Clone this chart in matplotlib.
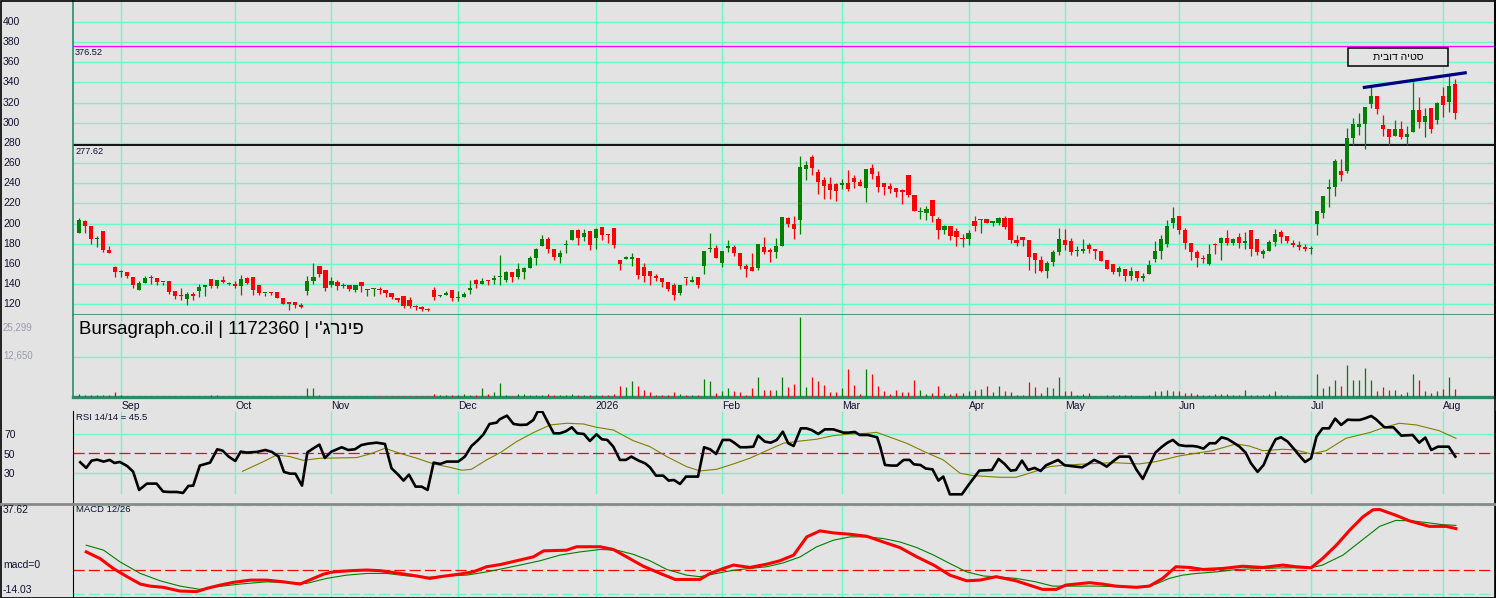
import matplotlib
matplotlib.use("Agg")
import matplotlib.pyplot as plt
import matplotlib.transforms as mtransforms
from matplotlib.patches import Rectangle
from matplotlib.lines import Line2D

plt.rcParams['font.family'] = ['Liberation Sans', 'DejaVu Sans']
plt.rcParams['lines.scale_dashes'] = False

W, H, DPI = 1496, 598, 100
BG = '#E3E3E3'
GRID = '#6EF7C9'
UP = '#008000'
DOWN = '#FF0000'
TXT = '#101030'

# ---------------- data ----------------
month_labels = ["Sep", "Oct", "Nov", "Dec", "2026", "Feb", "Mar", "Apr", "May", "Jun", "Jul", "Aug"]
month_pos = [7, 26, 42, 63, 86, 107, 127, 148, 164, 183, 205, 227]

price_ticks = [120, 140, 160, 180, 200, 220, 240, 260, 280, 300, 320, 340, 360, 380, 400]
level_hi = 376.52
level_lo = 277.62

opens = [
    190.6, 202.3, 197.3, 184.3, 192.3, 174.3, 157.3, 152.0, 152.3, 147.3,
    134.6, 141.6, 146.0, 146.0, 142.6, 143.3, 133.3, 128.3, 125.6, 130.3,
    133.3, 137.6, 145.3, 138.3, 144.3, 140.3, 140.0, 138.3, 146.3, 147.3,
    139.3, 131.0, 132.3, 132.3, 126.3, 122.3, 122.3, 119.3, 133.6, 143.3,
    158.3, 154.3, 139.6, 142.3, 138.3, 139.3, 134.3, 142.3, 134.3, 135.3,
    135.3, 134.3, 131.3, 126.3, 128.3, 124.3, 118.3, 117.3, 115.3, 134.3,
    128.3, 129.3, 134.3, 126.3, 127.3, 134.3, 144.3, 140.3, 144.3, 144.3,
    147.3, 144.3, 152.3, 147.3, 152.3, 156.3, 166.3, 178.3, 184.3, 175.3,
    167.3, 179.3, 183.3, 193.3, 186.3, 192.3, 185.3, 196.3, 189.3, 195.3,
    164.3, 165.3, 165.3, 166.3, 157.3, 153.0, 148.3, 146.3, 142.3, 139.3,
    131.6, 146.0, 142.3, 147.3, 157.6, 175.3, 176.3, 160.6, 175.6, 177.3,
    171.3, 158.3, 157.3, 155.6, 177.3, 174.3, 172.3, 178.3, 205.3, 199.3,
    203.3, 254.3, 266.3, 251.3, 243.3, 239.3, 239.3, 238.3, 240.3, 245.3,
    241.3, 235.3, 255.3, 247.3, 240.3, 237.3, 235.3, 233.3, 248.3, 228.3,
    211.3, 210.3, 223.3, 204.3, 193.6, 197.3, 192.3, 185.3, 184.6, 202.3,
    203.3, 204.3, 200.3, 200.3, 205.3, 205.3, 183.3, 186.3, 183.6, 170.6,
    164.3, 153.3, 162.3, 172.3, 183.3, 182.3, 173.0, 173.3, 179.3, 175.3,
    173.3, 164.3, 160.3, 152.3, 155.3, 148.3, 153.3, 146.3, 150.3, 165.3,
    173.3, 180.3, 200.3, 207.3, 193.3, 181.3, 172.3, 166.0, 160.3, 180.0,
    181.0, 186.0, 181.0, 187.0, 181.0, 194.0, 185.0, 170.0, 173.0, 182.0,
    192.0, 188.0, 181.0, 179.3, 177.0, 175.0, 200.0, 211.0, 234.0, 236.0,
    252.0, 252.0, 285.0, 296.0, 299.0, 319.0, 327.0, 298.0, 294.0, 287.0,
    294.0, 286.0, 291.0, 313.0, 301.0, 315.0, 303.0, 327.0, 321.0, 338.0,
]
highs = [
    206.0, 203.3, 197.3, 187.3, 192.3, 178.3, 158.3, 154.3, 152.3, 147.3,
    143.3, 148.3, 149.3, 146.0, 142.6, 143.3, 133.3, 136.0, 132.3, 132.3,
    140.3, 139.3, 145.3, 144.3, 148.3, 142.3, 143.3, 149.3, 147.3, 147.3,
    139.3, 131.3, 132.3, 132.3, 126.3, 122.3, 122.3, 121.0, 148.3, 161.3,
    158.3, 154.3, 147.3, 144.3, 141.3, 139.3, 139.3, 142.3, 135.3, 136.3,
    137.3, 134.3, 131.3, 126.3, 128.3, 127.3, 119.3, 118.6, 116.0, 137.3,
    129.3, 133.3, 134.3, 133.3, 132.3, 144.3, 145.3, 146.3, 144.3, 149.3,
    169.3, 153.3, 152.3, 161.3, 157.3, 168.3, 176.3, 188.3, 186.3, 175.3,
    174.3, 183.3, 193.3, 194.3, 194.3, 192.3, 195.3, 196.3, 189.3, 195.3,
    164.3, 168.3, 171.3, 166.3, 161.3, 153.0, 150.0, 146.3, 142.3, 141.3,
    139.0, 146.0, 148.3, 147.3, 173.3, 190.3, 179.3, 173.3, 183.3, 179.3,
    171.3, 160.0, 171.3, 180.3, 186.3, 176.3, 185.3, 206.3, 206.3, 207.3,
    267.3, 262.3, 268.3, 254.3, 246.3, 246.3, 240.3, 244.3, 253.3, 248.3,
    244.3, 254.3, 259.3, 252.3, 240.3, 240.3, 235.3, 234.3, 248.3, 228.3,
    216.3, 217.3, 223.3, 206.3, 198.3, 197.3, 195.3, 189.6, 193.3, 207.3,
    204.3, 204.3, 202.3, 206.3, 207.3, 205.3, 188.3, 186.3, 183.6, 171.3,
    168.3, 163.3, 174.3, 195.3, 194.3, 185.3, 178.3, 184.3, 181.3, 175.3,
    173.3, 164.3, 160.3, 158.3, 155.3, 157.3, 153.3, 151.3, 164.3, 182.3,
    188.3, 203.3, 216.3, 207.3, 195.3, 181.3, 174.3, 169.0, 180.0, 181.0,
    187.0, 194.0, 186.0, 191.0, 192.0, 194.0, 185.0, 175.0, 184.0, 195.0,
    194.0, 188.0, 184.0, 183.0, 180.0, 178.0, 213.0, 227.0, 244.0, 264.0,
    264.0, 295.0, 305.0, 310.0, 316.0, 337.0, 327.0, 308.0, 294.0, 303.0,
    302.0, 297.0, 340.0, 326.0, 315.0, 315.0, 321.0, 336.0, 348.0, 343.0,
]
lows = [
    190.6, 190.6, 180.0, 176.6, 171.6, 170.6, 146.6, 146.6, 146.0, 136.6,
    134.6, 141.6, 140.0, 139.3, 139.0, 130.6, 125.6, 124.6, 119.3, 124.6,
    127.3, 128.6, 136.6, 136.6, 141.0, 139.3, 136.6, 129.3, 140.0, 129.3,
    129.3, 128.3, 129.6, 126.3, 120.6, 114.3, 116.6, 116.6, 129.3, 140.0,
    147.3, 133.3, 137.3, 134.3, 136.6, 133.3, 132.3, 132.3, 128.6, 128.6,
    130.6, 127.3, 125.6, 122.3, 116.6, 116.6, 114.3, 113.6, 113.6, 124.3,
    127.3, 129.3, 123.3, 123.3, 127.3, 130.3, 136.3, 140.3, 139.3, 140.3,
    139.3, 142.3, 142.3, 145.3, 145.3, 156.3, 159.3, 178.3, 171.3, 164.3,
    161.3, 171.3, 183.3, 179.3, 182.3, 174.3, 175.3, 183.3, 181.3, 176.3,
    154.3, 165.3, 158.3, 145.3, 142.3, 139.6, 143.3, 137.6, 133.3, 124.6,
    129.6, 139.0, 142.3, 136.3, 150.3, 172.3, 165.6, 156.6, 172.3, 168.3,
    154.6, 146.6, 152.6, 153.6, 170.3, 161.6, 165.6, 178.3, 196.6, 184.3,
    189.3, 243.3, 248.3, 229.3, 224.3, 224.3, 222.3, 234.3, 232.3, 235.3,
    237.3, 221.3, 244.3, 231.3, 228.3, 230.3, 226.3, 219.3, 226.3, 212.3,
    204.3, 203.3, 201.6, 184.6, 189.6, 183.6, 178.3, 177.3, 179.3, 192.6,
    190.6, 200.3, 197.6, 198.3, 194.3, 181.3, 178.3, 178.3, 154.3, 151.3,
    152.3, 146.3, 158.3, 169.3, 174.3, 169.3, 168.3, 171.3, 171.3, 165.3,
    163.3, 155.3, 150.3, 148.3, 143.3, 144.3, 143.6, 143.3, 150.3, 162.3,
    165.3, 177.3, 195.3, 189.3, 175.3, 164.3, 157.3, 161.0, 159.0, 170.0,
    164.0, 179.0, 179.0, 176.0, 175.0, 168.0, 169.0, 166.0, 173.0, 178.0,
    181.0, 181.0, 177.0, 174.0, 173.0, 170.0, 189.0, 206.0, 217.0, 227.0,
    242.0, 250.0, 278.0, 288.0, 274.0, 315.0, 309.0, 287.0, 278.0, 287.0,
    284.0, 278.0, 291.0, 295.0, 286.0, 290.0, 299.0, 306.0, 311.0, 304.0,
]
closes = [
    203.3, 197.6, 184.6, 185.0, 174.3, 170.6, 151.6, 152.3, 148.0, 139.6,
    141.3, 146.3, 145.6, 142.3, 142.0, 132.6, 128.3, 128.0, 130.3, 128.3,
    137.3, 139.3, 138.3, 144.3, 142.0, 140.6, 138.3, 145.3, 141.3, 134.6,
    131.3, 131.3, 131.3, 126.3, 120.6, 120.6, 119.3, 117.6, 143.3, 147.3,
    150.3, 136.3, 143.3, 138.3, 139.3, 135.3, 139.3, 138.3, 135.3, 135.6,
    134.3, 131.3, 127.3, 124.3, 118.3, 118.3, 117.3, 115.3, 114.3, 127.3,
    129.3, 131.3, 126.3, 127.3, 130.3, 136.3, 140.3, 143.3, 143.3, 146.3,
    148.3, 152.3, 147.3, 155.3, 156.3, 166.3, 175.3, 184.3, 175.3, 167.3,
    171.3, 180.3, 193.3, 185.3, 190.3, 179.3, 194.3, 188.3, 188.3, 179.3,
    160.3, 167.3, 167.3, 149.3, 148.3, 147.6, 146.3, 142.3, 135.6, 129.6,
    139.0, 145.6, 144.0, 139.0, 173.3, 176.3, 165.6, 173.3, 177.6, 171.3,
    157.6, 154.6, 152.6, 180.3, 172.3, 172.3, 178.3, 206.3, 199.3, 194.3,
    256.3, 258.3, 255.3, 241.3, 237.3, 233.3, 232.3, 240.3, 234.3, 241.3,
    237.3, 254.3, 249.3, 236.3, 236.3, 234.3, 231.3, 231.3, 228.3, 212.3,
    212.3, 214.3, 207.6, 193.6, 197.3, 187.6, 186.3, 184.6, 190.3, 197.3,
    204.3, 200.3, 202.3, 205.3, 196.3, 183.3, 181.3, 183.3, 167.3, 164.3,
    153.3, 161.3, 172.3, 184.3, 179.3, 172.3, 173.3, 175.3, 175.3, 173.3,
    163.3, 155.3, 152.3, 156.3, 148.3, 153.3, 146.3, 148.3, 159.3, 173.3,
    184.3, 197.3, 205.3, 193.3, 181.3, 172.3, 166.3, 165.0, 170.0, 179.0,
    186.0, 181.0, 185.0, 181.0, 183.0, 175.0, 172.0, 173.0, 182.0, 190.0,
    187.0, 183.0, 179.0, 177.0, 175.0, 176.0, 213.0, 227.0, 236.0, 262.0,
    248.0, 285.0, 299.0, 299.0, 316.0, 327.0, 314.0, 294.0, 286.0, 294.0,
    286.0, 289.0, 313.0, 301.0, 307.0, 294.0, 320.0, 318.0, 337.0, 310.0,
]
volumes = [
    950, 630, 630, 630, 630, 630, 1580, 630, 320, 320,
    320, 320, 320, 320, 320, 320, 320, 320, 320, 320,
    320, 320, 630, 630, 320, 320, 320, 320, 320, 320,
    320, 320, 320, 320, 320, 320, 320, 320, 2850, 2850,
    630, 320, 320, 320, 320, 320, 320, 320, 320, 320,
    320, 320, 320, 320, 320, 320, 320, 320, 320, 950,
    630, 630, 630, 630, 950, 630, 630, 2850, 950, 1580,
    4430, 630, 320, 950, 950, 630, 630, 630, 950, 630,
    630, 630, 950, 630, 630, 630, 630, 630, 630, 950,
    3480, 3160, 5060, 3480, 2210, 1580, 630, 630, 630, 1580,
    950, 630, 630, 630, 5690, 5060, 1270, 1900, 2850, 1900,
    1580, 630, 2850, 6330, 2210, 2210, 2210, 6330, 3160, 4110,
    25299, 3160, 6330, 5060, 3800, 1580, 1580, 2850, 8860, 3800,
    950, 8860, 7270, 3480, 1900, 950, 2210, 1580, 1580, 5380,
    2210, 950, 1270, 3480, 1270, 950, 1270, 1270, 1900, 2210,
    2530, 3480, 1580,
    3480, 1900, 1580, 630, 630, 4740, 3160, 1270, 3160, 2850,
    6330, 1900, 1900, 630, 950, 1270, 320, 320, 630, 630,
    630, 630, 630, 320, 320, 630, 1900, 1900, 2210, 1900,
    1900, 1270, 1270, 950, 630, 630, 950, 950, 950, 630,
    630, 2210, 630, 630, 630, 950, 1900, 630, 630, 320,
    320, 320, 630, 7270, 2850, 3480, 5380, 3480, 10120, 5380,
    5380, 9170, 5380, 1900, 3160, 2210, 2210, 950, 1580, 7270,
    5380, 1900, 1270, 1900, 2530, 6330, 2530,
]
vol_ticks = [12650, 25299]

rsi_x = [0.2, 1.2, 2.1, 3.0, 4.1, 5.1, 5.9, 6.8, 8.0, 9.0, 10.0, 11.3, 12.9, 14.0, 15.1, 16.3, 17.3, 18.2, 19.0,
         20.1, 21.8, 23.0, 23.9, 24.9, 26.0, 26.9, 27.9, 29.6, 31.0, 32.1, 33.2, 34.1, 35.1, 36.0, 37.1, 38.0,
         39.0, 40.0, 40.9, 42.0, 43.7, 44.8, 45.9, 47.0, 48.1, 49.5, 50.9, 52.0, 53.1, 54.0, 54.9, 56.0, 57.0,
         58.0, 59.0, 60.1, 61.2, 63.1, 64.2, 65.3, 66.3, 67.3, 68.3, 69.5,
         70.0, 71.2, 72.3, 73.4, 74.5, 75.6, 76.3, 77.1, 78.1, 79.0, 80.0, 81.0, 82.0, 82.9, 84.0, 85.0, 86.1,
         87.0, 87.9, 88.9, 90.0, 91.0, 91.9, 93.1, 94.2, 95.0, 96.0, 97.2, 98.1, 99.0, 100.0, 101.0, 101.9,
         103.0, 104.0, 105.0, 106.0, 107.1, 108.3, 109.0, 110.0, 111.1, 112.2, 113.0, 114.1, 115.1, 116.1,
         117.1, 118.0, 118.9, 120.1, 121.0, 121.9, 123.0, 124.1, 125.5, 126.5, 127.2, 128.0, 129.1, 129.9,
         131.3, 132.8, 133.3, 134.1, 135.2, 136.1, 137.2, 138.2, 138.9, 140.0, 140.9, 142.0, 143.0, 143.8,
         144.9, 146.9, 148.0, 149.8, 151.9, 153.0,
         154.0, 155.0, 155.9, 156.9, 157.9, 159.0, 160.0, 160.9, 161.9, 162.9, 164.0, 164.9, 165.9, 166.9,
         167.9, 168.9, 169.9, 171.0, 172.0, 173.1, 174.8, 175.9, 177.0, 178.1, 179.1, 180.2, 181.1, 182.0,
         183.0, 184.1, 185.3, 186.1, 187.1, 188.1, 189.1, 190.1, 191.1, 192.1, 193.1, 194.1, 195.0, 196.1,
         197.1, 198.1, 199.1, 200.0, 201.1, 202.2, 203.2, 204.0, 205.0, 205.9, 206.9, 208.0, 209.0, 210.0,
         211.1, 212.0, 213.1, 214.0, 215.0, 215.8, 217.2, 218.7, 220.0, 221.9, 223.0, 224.0, 225.0, 226.1,
         227.9, 229.0]
rsi_y = [40.8, 35.0, 42.5, 43.5, 41.5, 43.2, 40.1, 41.1, 37.0, 31.2, 12.4, 18.9, 18.9, 10.7, 10.3, 10.3, 9.3, 16.5,
         16.8, 37.4, 40.4, 54.1, 52.7, 46.6, 42.1, 51.7, 50.7, 51.4, 53.4, 51.4, 46.6, 30.9, 29.1, 29.1, 16.8,
         51.0, 55.1, 58.9, 45.2, 51.7, 56.2, 53.4, 54.1, 58.5, 59.9, 60.9, 59.6, 34.6, 28.1, 22.0, 28.1, 15.8,
         15.8, 12.4, 40.4, 39.1, 41.5, 41.5, 46.6, 57.5, 63.0, 69.5, 80.1, 81.5,
         84.9, 88.6, 80.1, 79.1, 79.4, 84.2, 92.7, 92.7, 80.8, 70.5, 70.5, 72.6, 76.7, 70.5, 69.8, 62.6, 69.5,
         64.4, 63.7, 56.8, 43.2, 43.2, 46.6, 42.5, 39.7, 35.6, 27.1, 27.1, 22.0, 22.6, 18.5, 26.1, 26.1, 26.1,
         56.2, 54.1, 49.3, 63.7, 63.7, 60.9, 56.2, 56.2, 56.8, 68.1, 62.0, 60.9, 63.7, 72.2, 60.3, 57.5, 75.6,
         75.6, 73.9, 69.8, 74.6, 74.6, 72.6, 71.2, 71.2, 71.9, 68.8, 68.8, 66.4, 56.8, 38.0, 37.4, 37.4, 43.2,
         43.2, 38.7, 38.0, 34.3, 33.6, 22.0, 26.1, 7.9, 7.9, 17.5, 32.2, 32.9, 44.2,
         39.1, 32.2, 32.9, 42.5, 32.9, 35.0, 31.9, 37.7, 40.4, 43.2, 37.7, 37.0, 36.3, 35.6, 39.1, 43.2, 40.4,
         36.3, 41.5, 46.6, 46.6, 33.6, 23.7, 38.0, 50.7, 56.8, 60.9, 63.7, 58.5, 57.5, 57.5, 56.8, 54.8, 60.3,
         60.3, 66.4, 64.7, 60.9, 56.8, 50.7, 39.7, 30.9, 38.0, 52.7, 64.4, 66.4, 62.0, 54.1, 46.6, 41.1, 44.9,
         67.1, 75.6, 75.6, 85.6, 79.1, 84.5, 84.2, 84.2, 85.9, 88.3, 84.9, 76.7, 76.7, 68.1, 68.8, 60.9, 66.1,
         53.4, 56.8, 56.8, 46.6]

rsig_x = [27.2, 30.7, 32.9, 35.1, 37.3, 40.1, 46.2, 48.4, 50.9, 53.4, 56.2, 59.0, 61.7, 63.7, 65.3, 67.8, 70.1,
          72.8, 75.6, 78.4, 81.1, 83.9, 86.1, 88.9, 92.2, 95.0, 97.8, 101.1, 103.3, 106.1, 108.9, 111.6, 114.4,
          117.2, 120.0, 122.7, 125.5, 128.3, 131.1, 132.7, 135.0, 137.7, 141.0, 143.8, 146.6, 148.8, 153.2,
          155.9, 158.1, 161.5, 163.7, 167.6, 172.0, 176.4, 179.2, 183.1, 188.6, 192.5, 194.7, 197.0, 200.3,
          202.5, 205.0, 207.5, 210.8, 214.7, 217.2, 219.7, 222.5, 226.3, 229.1]
rsig_y = [31.5, 41.5, 48.3, 46.6, 42.8, 44.9, 45.6, 49.3, 55.1, 50.0, 44.9, 39.1, 35.6, 32.6, 33.6, 43.2, 50.7,
          62.0, 71.2, 79.1, 80.8, 80.1, 76.7, 73.9, 63.0, 56.8, 46.6, 36.3, 31.9, 33.6, 39.1, 44.9, 52.7, 60.3,
          62.6, 64.4, 68.1, 69.8, 70.5, 71.5, 66.4, 60.3, 50.7, 43.2, 29.5, 27.1, 25.4, 25.4, 29.5, 36.3, 37.7,
          39.1, 40.4, 39.1, 41.5, 47.3, 52.7, 59.6, 57.5, 52.7, 54.1, 53.4, 49.3, 52.7, 65.4, 71.2, 76.7, 80.8,
          79.1, 73.2, 65.4]
rsi_levels = [70, 50, 30]
rsi_label = "RSI 14/14 = 45.5"

macd_x = [1.2, 3.5, 5.7, 8.0, 10.2, 11.8, 14.0, 16.8, 19.6, 21.3, 23.5, 25.7, 28.5, 31.2, 34.0, 36.8, 39.0, 40.7,
          42.3, 45.1, 47.9, 50.1, 53.4, 56.2, 58.4, 60.1, 62.9, 65.6, 67.8, 70.1, 72.8, 75.6, 77.3, 81.1, 82.8,
          86.7, 88.9, 91.1, 93.9, 96.7, 99.2, 103.3, 105.0, 107.2, 108.9, 111.6, 114.4, 116.6, 118.9, 121.1,
          123.3, 125.5, 128.3, 131.1, 133.8, 136.6, 139.4, 142.2, 144.9, 147.7, 149.9, 152.6, 155.9, 158.1,
          160.3, 162.6, 164.2, 168.1, 170.3, 172.5, 175.9, 178.1, 180.3, 182.5, 184.8, 187.0, 190.3, 193.6,
          197.0, 200.3, 202.5, 205.0, 206.9, 209.2, 211.4, 213.6, 215.3, 216.4, 219.1, 221.4, 224.7, 227.5,
          229.1]
macd_y = [10.3, 6.4, 0.6, -4.2, -8.5, -9.7, -10.4, -12.6, -12.9, -11.0, -9.1, -7.5, -6.2, -6.2, -7.2, -8.5, -5.2,
          -2.7, -1.4, -0.7, -0.3, -0.7, -2.3, -3.8, -5.2, -4.2, -2.9, -1.4, 1.6, 2.9, 5.1, 7.4, 10.9, 11.3, 13.3,
          13.3, 11.7, 7.4, 1.9, -2.3, -5.8, -5.8, -2.3, 0.6, 2.6, 1.2, 3.1, 5.1, 8.4, 19.1, 22.6, 21.4, 20.6,
          19.4, 16.1, 12.8, 7.4, 2.6, -3.3, -6.6, -6.2, -4.2, -6.6, -9.1, -11.6, -11.6, -9.1, -7.7, -8.5, -9.7,
          -10.4, -9.7, -5.2, 1.6, 1.2, 0.0, 0.6, 1.9, 1.2, 2.6, 1.6, 1.0, 6.4, 14.2, 22.9, 30.7, 34.9, 35.1,
          31.7, 28.4, 25.2, 25.2, 23.9]
sig_x = [1.2, 4.1, 6.8, 10.2, 13.5, 16.8, 20.1, 22.9, 26.8, 31.2, 35.7, 37.9, 41.2, 44.5, 47.9, 51.2, 54.5, 57.9,
         61.2, 64.5, 67.8, 70.1, 73.4, 76.7, 80.0, 83.4, 86.7, 89.5, 92.2, 95.0, 97.8, 101.1, 103.3, 106.1,
         108.9, 111.6, 114.4, 117.2, 120.0, 122.7, 125.5, 128.3, 131.1, 133.8, 136.6, 139.4, 142.2, 144.9,
         147.7, 150.5, 152.6, 155.9, 159.2, 162.0, 164.8, 169.2, 173.6, 177.0, 179.2, 181.4, 183.6, 185.9,
         189.2, 192.5, 197.0, 200.3, 205.0, 206.9, 210.3, 213.6, 216.4, 219.1, 221.9, 224.7, 226.9, 229.1]
sig_y = [14.2, 11.3, 4.5, -2.3, -6.6, -9.7, -11.6, -10.1, -8.5, -7.2, -7.8, -8.1, -5.2, -3.3, -2.3, -2.3, -3.7,
         -4.6, -3.7, -3.3, -1.4, 0.2, 2.6, 5.1, 8.4, 10.3, 11.7, 11.3, 8.9, 5.1, 0.0, -3.3, -4.2, -2.3, -0.4,
         0.6, 1.6, 3.9, 7.4, 13.2, 17.1, 19.1, 19.1, 18.1, 16.1, 12.8, 8.4, 3.5, -1.4, -3.8, -4.2, -5.2, -7.2,
         -9.7, -9.7, -9.7, -10.1, -10.1, -8.5, -5.2, -3.3, -2.3, -1.4, 0.0, 0.6, 1.0, 1.0, 2.6, 8.4, 17.5, 25.2,
         28.7, 28.4, 27.2, 26.2, 25.8]
macd_top, macd_bottom = 37.62, -14.03
macd_label = "MACD 12/26"

trend_x = [213.6, 230.9]
trend_y = [334.9, 349.8]
note_text = "סטיה דובית"
watermark_latin = "Bursagraph.co.il | 1172360 | "
watermark_hebrew = "פינרג'י"

assert len(opens) == len(highs) == len(lows) == len(closes) == len(volumes)
assert len(rsi_x) == len(rsi_y) and len(rsig_x) == len(rsig_y)
assert len(macd_x) == len(macd_y) and len(sig_x) == len(sig_y)


def rtl(s):
    """Visual (left-to-right) glyph order for a right-to-left Hebrew run."""
    return s[::-1]


# ---------------- drawing ----------------
n = len(closes)
idx = list(range(n))
colors = [UP if c >= o else DOWN for o, c in zip(opens, closes)]

fig = plt.figure(figsize=(W / DPI, H / DPI), dpi=DPI, facecolor=BG)


def rect(x0, y0, x1, y1):
    return [x0 / W, 1 - y1 / H, (x1 - x0) / W, (y1 - y0) / H]


def ftext(x, y, s, **kw):
    kw.setdefault('color', TXT)
    kw.setdefault('fontsize', 7.5)
    kw.setdefault('va', 'center')
    kw.setdefault('ha', 'left')
    fig.text(x / W, 1 - y / H, s, **kw)


XL = (-1.0, 235.6)
ax_p = fig.add_axes(rect(73, 0, 1495, 315))
ax_v = fig.add_axes(rect(73, 315, 1495, 397))
ax_r = fig.add_axes(rect(73, 411, 1495, 503))
ax_m = fig.add_axes(rect(73, 505, 1495, 597))
for ax in (ax_p, ax_v, ax_r, ax_m):
    ax.set_facecolor(BG)
    ax.set_xlim(*XL)
    ax.set_xticks([])
    ax.set_yticks([])
    for s in ax.spines.values():
        s.set_visible(False)

# price panel
ax_p.set_ylim(109.4, 421.8)
for v in price_ticks:
    ax_p.axhline(v, color=GRID, lw=1.0, zorder=1)
for m in month_pos:
    ax_p.axvline(m, color=GRID, lw=1.0, zorder=1)
ax_p.axhline(level_hi, color='#FF00FF', lw=0.9, zorder=2)
ax_p.axhline(level_lo, color='black', lw=1.3, zorder=2)
ax_p.vlines(idx, lows, highs, colors=colors, lw=0.9, zorder=3)
bottoms = [min(o, c) for o, c in zip(opens, closes)]
heights = [max(abs(c - o), 1.0) for o, c in zip(opens, closes)]
ax_p.bar(idx, heights, bottom=bottoms, width=0.7, color=colors, linewidth=0, zorder=4)
ax_p.plot(trend_x, trend_y, color='#000080', lw=2.3, solid_capstyle='butt', zorder=5)
for sname, col, lw in (('left', '#2E8B6A', 1.2), ('bottom', '#2E8B6A', 1.2), ('right', 'black', 1.2)):
    ax_p.spines[sname].set_visible(True)
    ax_p.spines[sname].set_color(col)
    ax_p.spines[sname].set_linewidth(lw)

tp = mtransforms.blended_transform_factory(fig.transFigure, ax_p.transData)
for v in price_ticks:
    ax_p.text(3 / W, v, str(v), transform=tp, ha='left', va='center', fontsize=7.5, color=TXT)
tp_off = mtransforms.offset_copy(tp, fig=fig, y=-2, units='dots')
ax_p.text(75 / W, level_hi, f"{level_hi:.2f}", transform=tp_off, ha='left', va='top', fontsize=6.6, color=TXT)
ax_p.text(75 / W, level_lo, f"{level_lo:.2f}", transform=tp_off, ha='left', va='top', fontsize=6.6, color=TXT)

# note box
fig.add_artist(Rectangle((1348 / W, 1 - 66 / H), 100 / W, 18 / H, transform=fig.transFigure,
                         facecolor=BG, edgecolor='black', lw=1.1, zorder=10))
ftext(1398, 57, rtl(note_text), ha='center', fontsize=7.5, color='black', zorder=11)

# volume panel
ax_v.set_ylim(-100, 25840)
ax_v.axhline(vol_ticks[0], color=GRID, lw=1.0, zorder=1)
for m in month_pos:
    ax_v.axvline(m, color=GRID, lw=1.0, zorder=1)
ax_v.vlines(idx, 0, volumes, colors=colors, lw=0.9, zorder=3)
for sname, col, lw in (('left', '#2E8B6A', 1.2), ('bottom', '#2E8B6A', 2.4), ('right', 'black', 1.2)):
    ax_v.spines[sname].set_visible(True)
    ax_v.spines[sname].set_color(col)
    ax_v.spines[sname].set_linewidth(lw)
ftext(3, 327, f"{vol_ticks[1]:,}", fontsize=7, color='#9A9AAE')
ftext(3, 356, f"{vol_ticks[0]:,}", fontsize=7, color='#9A9AAE')
ftext(79, 330, watermark_latin + rtl(watermark_hebrew), fontsize=13.4, color='black', zorder=6)

# month labels
tm = mtransforms.blended_transform_factory(ax_v.transData, fig.transFigure)
for lab, m in zip(month_labels, month_pos):
    ax_v.text(m, 1 - 406 / H, lab, transform=tm, ha='left', va='center', fontsize=7.5, color=TXT)

# RSI panel
ax_r.set_ylim(-1, 93.4)
ax_r.axhline(70, color=GRID, lw=1.0, zorder=1)
ax_r.axhline(30, color=GRID, lw=1.0, zorder=1)
ax_r.vlines(month_pos, 8.3, 93.4, colors=GRID, lw=1.0, zorder=1)
ax_r.axhline(50, color='#FF0000', lw=0.9, dashes=(8, 3), zorder=2)
ax_r.plot(rsig_x, rsig_y, color='#808000', lw=0.8, zorder=3)
ax_r.plot(rsi_x, rsi_y, color='black', lw=1.9, zorder=4)
ax_r.spines['left'].set_visible(True)
ax_r.spines['left'].set_color('black')
ax_r.spines['right'].set_visible(True)
ax_r.spines['right'].set_color('black')
tr = mtransforms.blended_transform_factory(fig.transFigure, ax_r.transData)
for v in rsi_levels:
    ax_r.text(4 / W, v - 1.5, str(v), transform=tr, ha='left', va='center', fontsize=7.5, color=TXT)
ftext(76, 417, rsi_label, fontsize=6.8)

# MACD panel
ax_m.set_ylim(-16.07, 37.7)
ax_m.axhline(macd_top, color=GRID, lw=1.0, dashes=(8, 3), zorder=1)
ax_m.axhline(macd_bottom, color=GRID, lw=1.0, dashes=(8, 3), zorder=1)
for m in month_pos:
    ax_m.axvline(m, color=GRID, lw=1.0, zorder=1)
ax_m.axhline(0, color='#FF0000', lw=0.9, dashes=(8, 3), zorder=2)
ax_m.plot(sig_x, sig_y, color='#008000', lw=0.8, zorder=3)
ax_m.plot(macd_x, macd_y, color='#FF0000', lw=2.2, zorder=4)
ax_m.spines['left'].set_visible(True)
ax_m.spines['left'].set_color('black')
ax_m.spines['right'].set_visible(True)
ax_m.spines['right'].set_color('black')
ftext(76, 510, macd_label, fontsize=6.8)
ftext(3, 510, f"{macd_top:.2f}", fontsize=7.5)
ftext(3, 565, "macd=0", fontsize=7.5)
ftext(3, 590, f"{macd_bottom:.2f}", fontsize=7.5)

# separator and outer border
fig.add_artist(Line2D([0, 1], [1 - 503.5 / H, 1 - 503.5 / H], transform=fig.transFigure,
                      color='#8A8A8A', lw=2.0))
fig.add_artist(Rectangle((0.5 / W, 0.5 / H), 1 - 1.5 / W, 1 - 1.5 / H, transform=fig.transFigure,
                         fill=False, edgecolor='black', lw=1.2))

fig.savefig("out.png", dpi=DPI, facecolor=BG)
